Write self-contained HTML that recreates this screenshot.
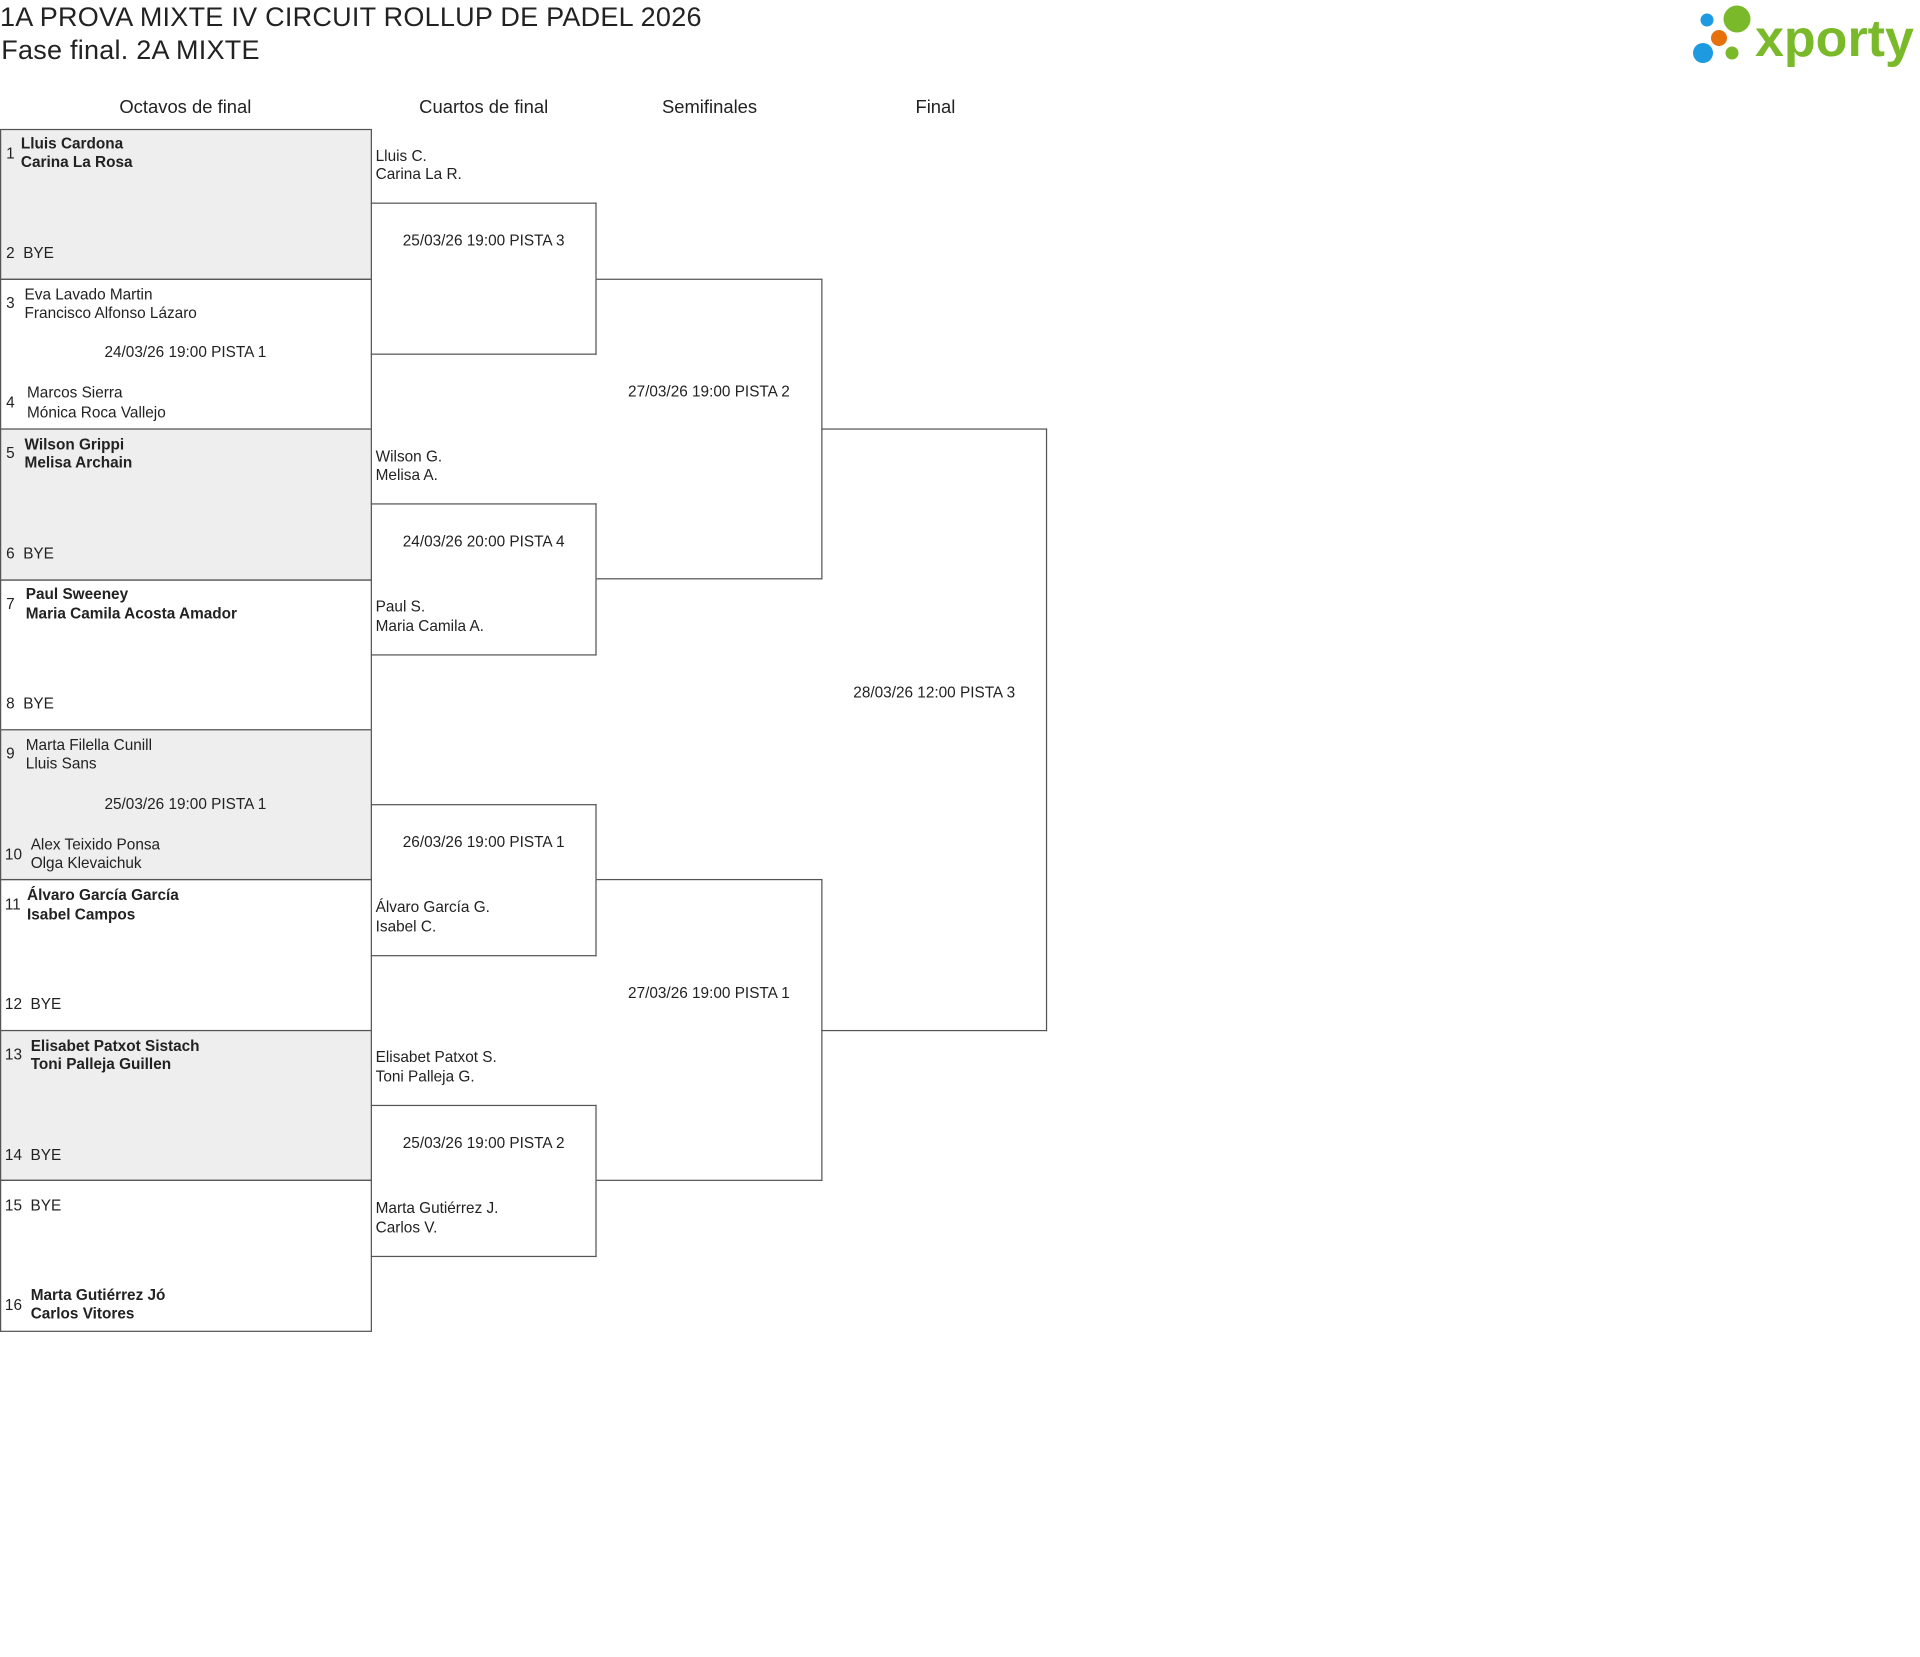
<!DOCTYPE html>
<html><head><meta charset="utf-8"><style>
html,body{margin:0;padding:0;background:#fff;}
body{width:1920px;height:1657px;overflow:hidden;position:relative;font-family:"Liberation Sans",sans-serif;color:#222;}
#w{position:absolute;left:0;top:0;width:1564px;height:1350px;transform:scale(1.2276);transform-origin:0 0;}
.t{position:absolute;white-space:nowrap;font-size:12.5px;line-height:16px;}
.b{font-weight:bold;font-size:12.5px;}
.c{text-align:center;}
.box{position:absolute;border:1px solid #555;box-sizing:border-box;}
.k{border-left:none;}
.g{background:#eeeeee;}
.h{position:absolute;font-size:15px;top:79px;text-align:center;width:200px;}
</style></head><body>
<div id="w">
<div class="t" style="left:0;top:2px;font-size:22px;line-height:24px;letter-spacing:0.2px;">1A PROVA MIXTE IV CIRCUIT ROLLUP DE PADEL 2026</div>
<div class="t" style="left:1px;top:29px;font-size:22px;line-height:24px;letter-spacing:0.2px;">Fase final. 2A MIXTE</div>

<div class="h" style="left:51px">Octavos de final</div>
<div class="h" style="left:294px">Cuartos de final</div>
<div class="h" style="left:478px">Semifinales</div>
<div class="h" style="left:662px">Final</div>

<div class="box g" style="left:0;top:105px;width:303px;height:123px"></div>
<div class="box" style="left:0;top:227px;width:303px;height:123px"></div>
<div class="box g" style="left:0;top:349px;width:303px;height:124px"></div>
<div class="box" style="left:0;top:472px;width:303px;height:123px"></div>
<div class="box g" style="left:0;top:594px;width:303px;height:123px"></div>
<div class="box" style="left:0;top:716px;width:303px;height:124px"></div>
<div class="box g" style="left:0;top:839px;width:303px;height:123px"></div>
<div class="box" style="left:0;top:961px;width:303px;height:124px"></div>

<div class="box k" style="left:302px;top:165px;width:184px;height:124px"></div>
<div class="box k" style="left:302px;top:410px;width:184px;height:124px"></div>
<div class="box k" style="left:302px;top:655px;width:184px;height:124px"></div>
<div class="box k" style="left:302px;top:900px;width:184px;height:124px"></div>
<div class="box k" style="left:486px;top:227px;width:184px;height:245px"></div>
<div class="box k" style="left:486px;top:716px;width:184px;height:246px"></div>
<div class="box k" style="left:669px;top:349px;width:184px;height:491px"></div>

<div class="t" style="left:5px;top:117px">1</div>
<div class="t b" style="left:17px;top:109px">Lluis Cardona</div>
<div class="t b" style="left:17px;top:124px">Carina La Rosa</div>
<div class="t" style="left:5px;top:198px">2&nbsp;&nbsp;BYE</div>

<div class="t" style="left:5px;top:239px">3</div>
<div class="t" style="left:20px;top:232px">Eva Lavado Martin</div>
<div class="t" style="left:20px;top:247px">Francisco Alfonso Lázaro</div>
<div class="t c" style="left:0;width:302px;top:279px">24/03/26 19:00 PISTA 1</div>
<div class="t" style="left:5px;top:320px">4</div>
<div class="t" style="left:22px;top:312px">Marcos Sierra</div>
<div class="t" style="left:22px;top:328px">Mónica Roca Vallejo</div>

<div class="t" style="left:5px;top:361px">5</div>
<div class="t b" style="left:20px;top:354px">Wilson Grippi</div>
<div class="t b" style="left:20px;top:369px">Melisa Archain</div>
<div class="t" style="left:5px;top:443px">6&nbsp;&nbsp;BYE</div>

<div class="t" style="left:5px;top:484px">7</div>
<div class="t b" style="left:21px;top:476px">Paul Sweeney</div>
<div class="t b" style="left:21px;top:492px">Maria Camila Acosta Amador</div>
<div class="t" style="left:5px;top:565px">8&nbsp;&nbsp;BYE</div>

<div class="t" style="left:5px;top:606px">9</div>
<div class="t" style="left:21px;top:599px">Marta Filella Cunill</div>
<div class="t" style="left:21px;top:614px">Lluis Sans</div>
<div class="t c" style="left:0;width:302px;top:647px">25/03/26 19:00 PISTA 1</div>
<div class="t" style="left:4px;top:688px">10</div>
<div class="t" style="left:25px;top:680px">Alex Teixido Ponsa</div>
<div class="t" style="left:25px;top:695px">Olga Klevaichuk</div>

<div class="t" style="left:4px;top:729px">11</div>
<div class="t b" style="left:22px;top:721px">Álvaro García García</div>
<div class="t b" style="left:22px;top:737px">Isabel Campos</div>
<div class="t" style="left:4px;top:810px">12&nbsp;&nbsp;BYE</div>

<div class="t" style="left:4px;top:851px">13</div>
<div class="t b" style="left:25px;top:844px">Elisabet Patxot Sistach</div>
<div class="t b" style="left:25px;top:859px">Toni Palleja Guillen</div>
<div class="t" style="left:4px;top:933px">14&nbsp;&nbsp;BYE</div>

<div class="t" style="left:4px;top:974px">15&nbsp;&nbsp;BYE</div>
<div class="t" style="left:4px;top:1055px">16</div>
<div class="t b" style="left:25px;top:1047px">Marta Gutiérrez Jó</div>
<div class="t b" style="left:25px;top:1062px">Carlos Vitores</div>

<div class="t" style="left:306px;top:119px">Lluis C.</div>
<div class="t" style="left:306px;top:134px">Carina La R.</div>
<div class="t c" style="left:302px;width:184px;top:188px">25/03/26 19:00 PISTA 3</div>

<div class="t" style="left:306px;top:364px">Wilson G.</div>
<div class="t" style="left:306px;top:379px">Melisa A.</div>
<div class="t c" style="left:302px;width:184px;top:433px">24/03/26 20:00 PISTA 4</div>
<div class="t" style="left:306px;top:486px">Paul S.</div>
<div class="t" style="left:306px;top:502px">Maria Camila A.</div>

<div class="t c" style="left:302px;width:184px;top:678px">26/03/26 19:00 PISTA 1</div>
<div class="t" style="left:306px;top:731px">Álvaro García G.</div>
<div class="t" style="left:306px;top:747px">Isabel C.</div>

<div class="t" style="left:306px;top:853px">Elisabet Patxot S.</div>
<div class="t" style="left:306px;top:869px">Toni Palleja G.</div>
<div class="t c" style="left:302px;width:184px;top:923px">25/03/26 19:00 PISTA 2</div>
<div class="t" style="left:306px;top:976px">Marta Gutiérrez J.</div>
<div class="t" style="left:306px;top:992px">Carlos V.</div>

<div class="t c" style="left:486px;width:183px;top:311px">27/03/26 19:00 PISTA 2</div>
<div class="t c" style="left:486px;width:183px;top:801px">27/03/26 19:00 PISTA 1</div>
<div class="t c" style="left:669px;width:184px;top:556px">28/03/26 12:00 PISTA 3</div>
</div>

<svg style="position:absolute;left:1690px;top:0" width="230" height="75">
<circle cx="17" cy="20" r="6.5" fill="#1e9be0"/>
<circle cx="47" cy="19" r="13.5" fill="#7ab929"/>
<circle cx="29" cy="38" r="8" fill="#e5700c"/>
<circle cx="13" cy="53" r="10" fill="#1e9be0"/>
<circle cx="42" cy="53" r="6.5" fill="#7ab929"/>
<text x="65" y="56" font-family="Liberation Sans, sans-serif" font-weight="bold" font-size="52" fill="#7ab929" letter-spacing="0">xporty</text>
</svg>
</body></html>
